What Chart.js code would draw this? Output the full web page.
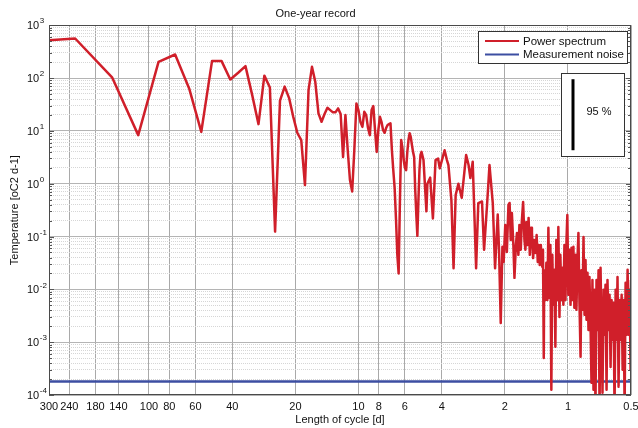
<!DOCTYPE html>
<html>
<head>
<meta charset="utf-8">
<script src="https://cdn.jsdelivr.net/npm/chart.js@4/dist/chart.umd.min.js"></script>
<style>
  html, body { margin: 0; padding: 0; background: #fff; }
  #wrap { width: 638px; height: 428px; }
</style>
</head>
<body>
<div id="wrap"><canvas id="chart" width="638" height="428"></canvas></div>
<script>
const FONT = "'Liberation Sans', Arial, Helvetica, sans-serif";

// Spectral estimate: harmonic k corresponds to a cycle length of WINDOW_DAYS / k days.
const WINDOW_DAYS = 450;

const harmonic = [
  1, 2, 3, 4, 5, 6, 7, 8, 9, 10,
  11, 12, 13, 14, 15, 16, 17, 18, 19, 20,
  21, 22, 23, 24, 25, 26, 27, 28, 29, 30,
  31, 32, 33, 34, 35, 36, 37, 38, 39, 40,
  41, 42, 43, 44, 45, 46, 47, 48, 49, 50,
  51, 52, 53, 54, 55, 56, 57, 58, 59, 60,
  61, 62, 63, 64, 65, 66, 67, 68, 69, 70,
  71, 72, 73, 74, 75, 76, 77, 78, 79, 80,
  81, 82, 83, 84, 85, 86, 87, 88, 89, 90,
  92, 95, 96, 99, 102, 105, 108, 110, 116, 119,
  121, 125, 128, 131, 135, 140, 147, 151, 154, 158,
  164, 168, 175, 179, 185, 190, 197, 202, 208, 211,
  215, 219, 222, 226, 230, 234, 237, 240, 243, 247,
  250, 254, 257, 261, 264, 268, 271, 275, 279, 282,
  285, 289, 292, 296, 300, 303, 307, 311, 315, 319,
  323, 326, 330, 334, 339, 342, 345, 347, 351, 355,
  359, 363, 367, 371, 375, 379, 383, 388, 392, 396,
  401, 405, 410, 414, 419, 424, 428, 433, 438, 443,
  447, 452, 457, 463, 468, 473, 478, 483, 489, 494,
  500, 505, 511, 517, 522, 528, 534, 540, 546, 552,
  558, 564, 570, 577, 583, 589, 596, 603, 609, 616,
  623, 630, 637, 644, 651, 658, 666, 673, 680, 688,
  695, 703, 711, 719, 727, 735, 743, 751, 760, 768,
  776, 785, 794, 803, 812, 821, 830, 839, 848, 858,
  867, 877, 886, 896, 900
];

const power = [
  470, 560, 103, 8.3, 202, 279, 63.5, 9.6, 209, 209,
  94, 126, 168, 47.5, 13.4, 111, 66, 0.124, 37.4, 68.8,
  41.7, 18.2, 9.1, 6.7, 0.94, 59, 163, 85, 21.4, 14.9,
  20.8, 27.3, 24.7, 22.4, 22.6, 26.6, 20.8, 3.2, 19.9, 4.3,
  1.17, 0.71, 4.3, 33, 24.7, 14.7, 11.9, 23, 19.9, 11.3,
  8.3, 24.7, 29.4, 10.3, 4.0, 10.3, 18.5, 14.7, 10.3, 9.2,
  11.3, 12.9, 13.4, 13.9, 4.3, 1.8, 0.82, 0.21, 0.045, 0.020,
  0.49, 6.7, 4.7, 2.8, 2.0, 1.8, 4.0, 6.7, 9.0, 7.6,
  5.4, 4.0, 3.2, 0.76, 0.26, 0.103, 0.49, 1.8, 3.5, 4.0,
  2.8, 0.30, 1.0, 1.3, 0.22, 2.8, 3.0, 1.95, 4.3, 2.8,
  2.25, 0.49, 0.025, 0.61, 1.0, 0.54, 3.5, 2.25, 1.28, 2.6,
  0.025, 0.43, 0.46, 0.056, 0.40, 2.25, 0.43, 0.025, 0.26, 0.056,
  0.0023, 0.064, 0.033, 0.166, 0.051, 0.396, 0.432, 0.086, 0.279, 0.069,
  0.0165, 0.069, 0.117, 0.045, 0.166, 0.056, 0.189, 0.451, 0.086, 0.056,
  0.189, 0.069, 0.225, 0.045, 0.146, 0.117, 0.039, 0.086, 0.049, 0.107,
  0.033, 0.069, 0.029, 0.069, 0.027, 0.056, 0.0005, 0.023, 0.0063, 0.0317,
  0.0063, 0.146, 0.0069, 0.069, 0.000126, 0.045, 0.0051, 0.0234, 0.00082, 0.086,
  0.0063, 0.152, 0.0030, 0.045, 0.0063, 0.0255, 0.0051, 0.069, 0.0063, 0.086,
  0.256, 0.0079, 0.056, 0.0051, 0.061, 0.0063, 0.064, 0.0045, 0.045, 0.0041,
  0.039, 0.117, 0.0051, 0.00053, 0.023, 0.0041, 0.098, 0.0033, 0.036, 0.00265,
  0.0205, 0.0017, 0.0172, 0.0021, 0.00017, 0.0151, 0.000126, 0.0098, 0.00005, 0.0151,
  0.0017, 0.023, 0.00005, 0.0255, 0.0017, 0.00011, 0.0098, 0.00138, 0.0122, 0.000126,
  0.0151, 0.0017, 0.0079, 0.00034, 0.0063, 0.00111, 0.0056, 0.00005, 0.0098, 0.00111,
  0.0172, 0.000144, 0.0063, 0.00111, 0.0079, 0.0003, 0.0063, 0.00005, 0.0133, 0.00138,
  0.0234, 0.00138, 0.0098, 0.0003, 0.0151
];

const noiseLevel = 1.8e-4;                 // measurement noise floor
const ci95 = [4.3, 95];                    // extent of the 95 % confidence bar
const periodTicks = [300, 240, 180, 140, 100, 80, 60, 40, 20, 10, 8, 6, 4, 2, 1, 0.5];
const decadeExponents = [-4, -3, -2, -1, 0, 1, 2, 3];
const seriesNames = ['Power spectrum', 'Measurement noise'];
const seriesColors = ['#d01f2a', '#3c4ea2'];

const isDecade = v => Math.abs(Math.log10(v) - Math.round(Math.log10(v))) < 1e-6;

// y gridlines: every decade plus 2..9 within each decade
const yTicks = [];
decadeExponents.forEach((e, i) => {
  yTicks.push(Math.pow(10, e));
  if (i < decadeExponents.length - 1) {
    for (let m = 2; m <= 9; m++) yTicks.push(m * Math.pow(10, e));
  }
});

const spectrum = harmonic.map((k, i) => ({ x: WINDOW_DAYS / k, y: power[i] }));
const noise = [
  { x: periodTicks[0], y: noiseLevel },
  { x: periodTicks[periodTicks.length - 1], y: noiseLevel }
];

const decorations = {
  id: 'decorations',
  afterDatasetsDraw(chart) {
    const { ctx, chartArea: a, scales: { y } } = chart;
    ctx.save();

    // inward tick marks on the left and right axes
    ctx.strokeStyle = '#555';
    ctx.lineWidth = 1;
    ctx.beginPath();
    yTicks.forEach(v => {
      const py = Math.round(y.getPixelForValue(v)) + 0.5;
      const len = isDecade(v) ? 5 : 3;
      ctx.moveTo(a.left, py); ctx.lineTo(a.left + len, py);
      ctx.moveTo(a.right, py); ctx.lineTo(a.right - len, py);
    });
    ctx.stroke();

    // plot frame
    ctx.strokeStyle = '#4a4a4a';
    ctx.strokeRect(Math.round(a.left) + 0.5, Math.round(a.top) + 0.5,
                   Math.round(a.width) - 1, Math.round(a.height) - 1);

    // legend box
    const lx = Math.round(a.right) - 153, ly = Math.round(a.top) + 6, lw = 149, lh = 32;
    ctx.fillStyle = '#fff';
    ctx.fillRect(lx, ly, lw, lh);
    ctx.strokeStyle = '#333';
    ctx.strokeRect(lx + 0.5, ly + 0.5, lw, lh);
    ctx.font = `11.5px ${FONT}`;
    ctx.textBaseline = 'middle';
    ctx.textAlign = 'left';
    chart.data.datasets.slice(0, 2).forEach((ds, i) => {
      const ry = ly + 10 + i * 13.5;
      ctx.strokeStyle = ds.borderColor;
      ctx.lineWidth = 2;
      ctx.beginPath();
      ctx.moveTo(lx + 7, ry); ctx.lineTo(lx + 41, ry);
      ctx.stroke();
      ctx.fillStyle = '#111';
      ctx.fillText(ds.label, lx + 45, ry + 0.5);
    });

    // 95 % confidence box
    const bx = Math.round(a.right) - 70, by = Math.round(a.top) + 48, bw = 63, bh = 83;
    ctx.fillStyle = '#fff';
    ctx.fillRect(bx, by, bw, bh);
    ctx.strokeStyle = '#333';
    ctx.lineWidth = 1;
    ctx.strokeRect(bx + 0.5, by + 0.5, bw, bh);
    ctx.strokeStyle = '#000';
    ctx.lineWidth = 3;
    ctx.beginPath();
    ctx.moveTo(bx + 12, y.getPixelForValue(ci95[1]));
    ctx.lineTo(bx + 12, y.getPixelForValue(ci95[0]));
    ctx.stroke();
    ctx.fillStyle = '#111';
    ctx.font = `11px ${FONT}`;
    ctx.textAlign = 'center';
    ctx.fillText('95 %', bx + 38, by + 39);

    ctx.restore();
  },
  afterDraw(chart) {
    const { ctx, scales: { y } } = chart;
    ctx.save();
    ctx.fillStyle = '#111';
    ctx.textBaseline = 'middle';
    ctx.textAlign = 'left';
    decadeExponents.forEach(e => {
      const py = y.getPixelForValue(Math.pow(10, e));
      ctx.font = `11px ${FONT}`;
      ctx.fillText('10', 27, py + 1);
      const w = ctx.measureText('10').width;
      ctx.font = `8px ${FONT}`;
      ctx.fillText(String(e), 27 + w + 0.5, py - 4);
    });
    ctx.restore();
  }
};

new Chart(document.getElementById('chart'), {
  type: 'line',
  data: {
    datasets: [
      {
        label: seriesNames[0],
        data: spectrum,
        borderColor: seriesColors[0],
        borderWidth: 2.5,
        borderJoinStyle: 'round',
        pointRadius: 0,
        tension: 0,
        clip: 0
      },
      {
        label: seriesNames[1],
        data: noise,
        borderColor: seriesColors[1],
        borderWidth: 2.5,
        pointRadius: 0,
        tension: 0
      }
    ]
  },
  options: {
    responsive: false,
    animation: false,
    devicePixelRatio: 1,
    events: [],
    layout: { padding: { left: 0, right: 7, top: 0, bottom: 0 } },
    plugins: {
      legend: { display: false },
      tooltip: { enabled: false },
      title: {
        display: true,
        text: 'One-year record',
        color: '#111',
        font: { family: FONT, size: 11, weight: 'normal' },
        padding: { top: 7, bottom: 5 }
      }
    },
    scales: {
      x: {
        type: 'logarithmic',
        reverse: true,
        min: 0.5,
        max: 300,
        afterBuildTicks: s => { s.ticks = periodTicks.map(v => ({ value: v })); },
        afterFit: s => { s.height = 33; s.paddingLeft = 0; s.paddingRight = 0; },
        ticks: {
          autoSkip: false, maxRotation: 0, minRotation: 0, padding: 5,
          color: '#111', font: { family: FONT, size: 11 },
          callback: v => String(v)
        },
        grid: { color: '#a9a9a9', lineWidth: 1, drawTicks: false },
        border: { display: false },
        title: {
          display: true, text: 'Length of cycle [d]', color: '#111',
          font: { family: FONT, size: 11 }, padding: { top: 0, bottom: 1 }
        }
      },
      y: {
        type: 'logarithmic',
        min: 1e-4,
        max: 1e3,
        afterBuildTicks: s => { s.ticks = yTicks.map(v => ({ value: v })); },
        afterFit: s => { s.width = 49; s.paddingTop = 0; s.paddingBottom = 0; },
        ticks: { display: false },
        grid: {
          color: c => (c.tick && isDecade(c.tick.value)) ? '#b4b4b4' : '#d6d6d6',
          lineWidth: 1,
          drawTicks: false
        },
        border: {
          display: false,
          dash: c => (c.tick && isDecade(c.tick.value)) ? [] : [1, 1]
        },
        title: {
          display: true, text: 'Temperature [oC2 d-1]', color: '#111',
          font: { family: FONT, size: 11 }, padding: { top: 8, bottom: 0 }
        }
      }
    }
  },
  plugins: [decorations]
});
</script>
</body>
</html>
